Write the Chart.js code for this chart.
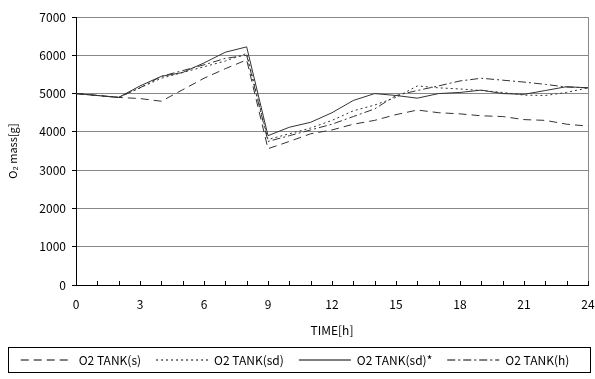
<!DOCTYPE html>
<html>
<head>
<meta charset="utf-8">
<script src="https://cdn.jsdelivr.net/npm/chart.js@4/dist/chart.umd.min.js"></script>
<style>
  html, body { margin: 0; padding: 0; background: #fff; }
  #wrap { width: 595px; height: 379px; }
</style>
</head>
<body>
<div id="wrap"><canvas id="myChart" width="595" height="379"></canvas></div>
<script>
// hours 0..24
var hours = [0,1,2,3,4,5,6,7,8,9,10,11,12,13,14,15,16,17,18,19,20,21,22,23,24];

var tankS    = [5000,4950,4900,4870,4800,5100,5400,5650,5880,3560,3750,3950,4050,4200,4300,4450,4570,4500,4470,4420,4400,4320,4300,4200,4150];
var tankSd   = [5000,4950,4900,5150,5400,5550,5700,5850,6050,3800,3950,4100,4300,4550,4700,4900,5200,5150,5120,5080,5030,4960,4950,5030,5150];
var tankSdX  = [5000,4950,4900,5200,5450,5550,5800,6080,6220,3900,4120,4250,4500,4820,5000,4950,4880,5000,5030,5090,5000,4980,5080,5180,5150];
var tankH    = [5000,4950,4900,5150,5450,5600,5750,5920,6000,3750,3900,4050,4200,4400,4600,4950,5080,5200,5330,5400,5350,5300,5240,5170,5150];

var seriesNames = ["O2 TANK(s)", "O2 TANK(sd)", "O2 TANK(sd)*", "O2 TANK(h)"];
var yTicks = [0,1000,2000,3000,4000,5000,6000,7000];

function pts(vals) {
  return hours.map(function(h, i) { return { x: h, y: vals[i] }; });
}

var fontFam = '"Noto Sans CJK JP", "Liberation Sans", sans-serif';
var lineColor = '#333';

// inward hour ticks on the time axis, right border, legend frame
var frame = {
  id: 'frame',
  beforeDatasetsDraw: function(chart) {
    var ctx = chart.ctx, a = chart.chartArea, xs = chart.scales.x;
    ctx.save();
    ctx.strokeStyle = '#888';
    ctx.lineWidth = 1;
    ctx.beginPath();
    ctx.moveTo(Math.round(a.right) + 0.5, a.top);
    ctx.lineTo(Math.round(a.right) + 0.5, a.bottom);
    ctx.stroke();
    ctx.strokeStyle = '#000';
    ctx.beginPath();
    hours.forEach(function(h) {
      var px = Math.round(xs.getPixelForValue(h)) + 0.5;
      ctx.moveTo(px, a.bottom);
      ctx.lineTo(px, a.bottom - 4);
    });
    ctx.stroke();
    ctx.restore();
  },
  afterDraw: function(chart) {
    var ctx = chart.ctx, l = chart.legend;
    if (!l || !l.legendHitBoxes || !l.legendHitBoxes.length) return;
    var top = Infinity, bot = -Infinity;
    l.legendHitBoxes.forEach(function(b) {
      top = Math.min(top, b.top);
      bot = Math.max(bot, b.top + b.height);
    });
    ctx.save();
    ctx.strokeStyle = '#000';
    ctx.lineWidth = 1;
    ctx.strokeRect(8.5, Math.round(top) - 6.5, 582, Math.round(bot - top) + 13);
    ctx.restore();
  }
};

new Chart(document.getElementById('myChart'), {
  type: 'line',
  data: {
    datasets: [
      { label: seriesNames[0], data: pts(tankS),   borderColor: lineColor, borderWidth: 1, borderDash: [8, 5] },
      { label: seriesNames[1], data: pts(tankSd),  borderColor: lineColor, borderWidth: 1, borderDash: [2, 3] },
      { label: seriesNames[2], data: pts(tankSdX), borderColor: lineColor, borderWidth: 1, borderDash: [] },
      { label: seriesNames[3], data: pts(tankH),   borderColor: lineColor, borderWidth: 1, borderDash: [8, 3, 2, 3] }
    ]
  },
  options: {
    responsive: false,
    animation: false,
    devicePixelRatio: 1,
    layout: { padding: { left: 2, right: 7, top: 17, bottom: 3 } },
    elements: { point: { radius: 0 }, line: { tension: 0 } },
    plugins: {
      tooltip: { enabled: false },
      legend: {
        position: 'bottom',
        labels: {
          usePointStyle: true,
          pointStyle: 'line',
          pointStyleWidth: 52,
          boxHeight: 12,
          padding: 15,
          color: '#000',
          font: { family: fontFam, size: 12 },
          generateLabels: function(chart) {
            var items = Chart.defaults.plugins.legend.labels.generateLabels(chart);
            items.forEach(function(it) {
              var ds = chart.data.datasets[it.datasetIndex];
              it.lineDash = ds.borderDash;
              it.strokeStyle = '#000';
              it.lineWidth = 1;
              it.pointStyle = 'line';
            });
            return items;
          }
        }
      }
    },
    scales: {
      x: {
        type: 'linear',
        min: 0, max: 24,
        ticks: {
          stepSize: 3,
          color: '#000',
          padding: 12,
          font: { family: fontFam, size: 12 }
        },
        grid: { drawOnChartArea: false, drawTicks: false },
        border: { color: '#000', width: 1 },
        title: { display: true, text: 'TIME[h]', color: '#000', padding: { top: 14, bottom: 1 }, font: { family: fontFam, size: 12 } },
        afterFit: function(s) { s.height = 54; s.paddingRight = 0; s.paddingLeft = 0; }
      },
      y: {
        min: 0, max: 7000,
        afterBuildTicks: function(s) { s.ticks = yTicks.map(function(v) { return { value: v }; }); },
        ticks: {
          color: '#000',
          padding: 6,
          font: { family: fontFam, size: 12 },
          callback: function(v) { return String(v); }
        },
        grid: { color: '#888', tickColor: '#000', tickLength: 4 },
        border: { color: '#000', width: 1 },
        title: { display: true, text: 'O\u2082 mass[g]', color: '#000', font: { family: fontFam, size: 11 } },
        afterFit: function(s) { s.width = 74; s.paddingTop = 0; s.paddingBottom = 0; }
      }
    }
  },
  plugins: [frame]
});
</script>
</body>
</html>
